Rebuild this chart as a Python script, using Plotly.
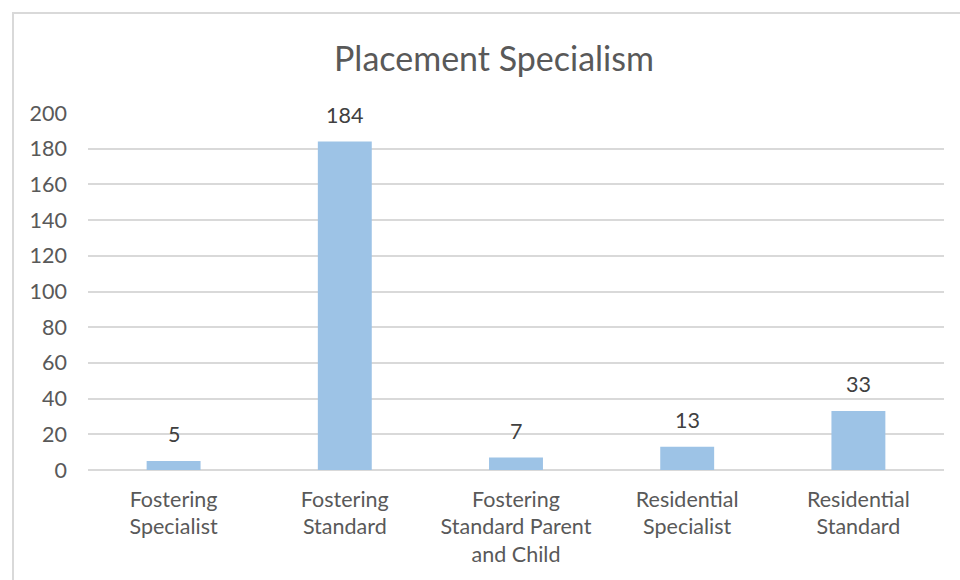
import plotly.graph_objects as go

categories = ["Fostering<br>Specialist", "Fostering<br>Standard", "Fostering<br>Standard Parent<br>and Child",
              "Residential<br>Specialist", "Residential<br>Standard"]
values = [5, 184, 7, 13, 33]
y_ticks = [0, 20, 40, 60, 80, 100, 120, 140, 160, 180, 200]

W, H = 960, 580
L, R, T, B = 88, 16, 113, 110
pw, ph = W - L - R, H - T - B
FONT = "Lato"

fig = go.Figure(go.Bar(
    x=categories, y=values, marker_color="#9DC3E6", marker_line_width=0,
    hoverinfo="x+y",
))

fig.update_layout(
    width=W, height=H,
    margin=dict(l=L, r=R, t=T, b=B),
    paper_bgcolor="white", plot_bgcolor="white",
    bargap=0.685,
    showlegend=False,
    font=dict(family=FONT, color="#595959", size=21.5),
    title=dict(text="Placement Specialism", x=494 / W, xanchor="center",
               y=1 - 59 / H, yanchor="middle",
               font=dict(size=34, color="#595959", family=FONT)),
    annotations=[dict(x=c, y=v, xref="x", yref="y", text=str(v), showarrow=False,
                      yanchor="bottom", yshift=12,
                      font=dict(size=21.5, color="#404040", family=FONT))
                 for c, v in zip(categories, values)],
    shapes=[dict(type="rect", xref="paper", yref="paper",
                 x0=(13 - L) / pw, x1=(980 - L) / pw,
                 y0=-(600 - (H - B)) / ph, y1=((H - B) - 13) / ph,
                 line=dict(color="#d9d9d9", width=2), fillcolor="rgba(0,0,0,0)", layer="below")],
)
fig.update_yaxes(range=[0, 200], tickvals=y_ticks, showgrid=True, gridcolor="#d9d9d9", gridwidth=1.5,
                 zeroline=True, zerolinecolor="#d9d9d9", zerolinewidth=1.5, showline=False,
                 ticklabelstandoff=20, tickfont=dict(size=21.5, color="#595959"))
fig.update_xaxes(showline=False, ticks="", ticklabelstandoff=14,
                 tickfont=dict(size=21.5, color="#595959"))

fig.write_html("out.html", config={"displayModeBar": False},
               post_script="document.body.style.margin='0';")
